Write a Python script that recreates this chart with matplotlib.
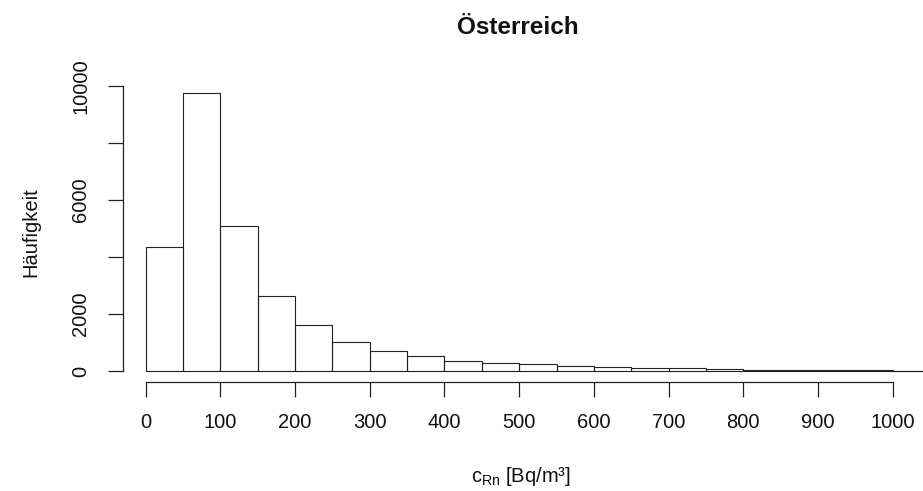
import numpy as np
import matplotlib
matplotlib.use('Agg')
import matplotlib.pyplot as plt

plt.rcParams['font.family'] = ['Liberation Sans', 'DejaVu Sans']

# Klassengrenzen (Bq/m³) und Häufigkeiten
bin_edges = np.arange(0, 1051, 50)
counts = [4360, 9750, 5080, 2630, 1600, 1030, 700, 540, 345, 290,
          235, 185, 130, 105, 95, 60, 50, 35, 45, 40, 15]
x_ticks = [0, 100, 200, 300, 400, 500, 600, 700, 800, 900, 1000]
y_ticks = [0, 2000, 4000, 6000, 8000, 10000]
y_labels = ['0', '2000', '', '6000', '', '10000']

W, H = 923, 491
fig = plt.figure(figsize=(W / 100, H / 100), dpi=100)

# Plotbereich in Pixeln: links 122.7, unten 381.7, oben 81.7
left, bottom, top = 122.7, 381.7, 81.7
ax = fig.add_axes([left / W, (H - bottom) / H, (W - left) / W, (bottom - top) / H])

ax.bar(bin_edges[:-1], counts, width=50, align='edge', fill=False,
       edgecolor='#222222', linewidth=0.8)

ax.set_xlim(-30.8, 1040.6)
ax.set_ylim(-375, 10140)

for s in ['top', 'right']:
    ax.spines[s].set_visible(False)
ax.spines['left'].set_bounds(0, 10000)
ax.spines['bottom'].set_bounds(0, 1000)
for s in ['left', 'bottom']:
    ax.spines[s].set_linewidth(0.9)
    ax.spines[s].set_color('#222222')

ax.set_xticks(x_ticks)
ax.set_yticks(y_ticks)
ax.set_yticklabels(y_labels)
ax.tick_params(axis='both', direction='out', length=10.5, width=0.9,
               color='#222222', labelsize=14.5, labelcolor='#111111')
ax.tick_params(axis='x', pad=12)
ax.tick_params(axis='y', pad=13)
for lbl in ax.get_yticklabels():
    lbl.set_rotation(90)
    lbl.set_va('center')

fig.text(518 / W, 1 - 28 / H, 'Österreich', ha='center', va='center',
         fontsize=17.5, fontweight='bold', color='#111111')
fig.text(521 / W, 1 - 477 / H, r'c$_{\mathregular{Rn}}$ [Bq/m³]', ha='center', va='center',
         fontsize=14.5, color='#111111')
fig.text(31 / W, 1 - 232 / H, 'Häufigkeit', ha='center', va='center',
         rotation=90, fontsize=14.5, color='#111111')

fig.savefig('out.png', dpi=100)
